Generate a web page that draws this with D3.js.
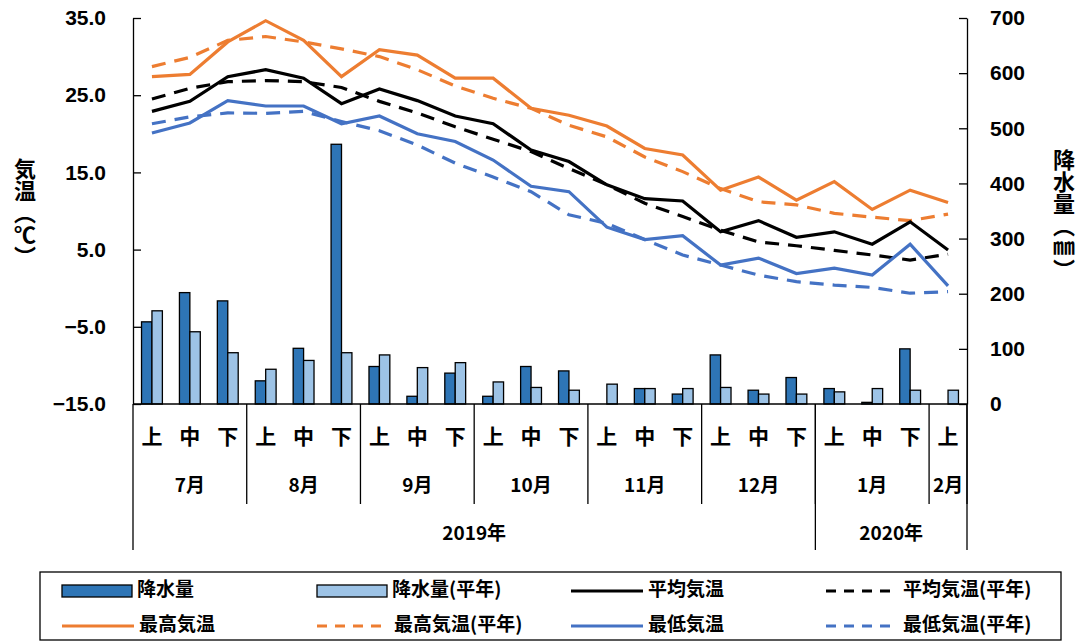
<!DOCTYPE html>
<html>
<head>
<meta charset="utf-8">
<script src="https://cdn.jsdelivr.net/npm/d3@7"></script>
<style>
  body { margin: 0; background: #fff; }
  svg text { font-family: "Liberation Sans", Arial, "Noto Sans CJK JP", sans-serif; font-weight: bold; }
  .jp { font-family: "Noto Sans CJK JP", sans-serif; font-weight: bold; }
  .vert { writing-mode: vertical-rl; text-orientation: upright; }
</style>
</head>
<body>
<div id="vis-holder"></div>
<script>
// Set dimensions
const width = 1080;
const height = 642;
const margin = { top: 18, right: 113, bottom: 238, left: 133 };

// Categories (旬)
const periods = ["上","中","下","上","中","下","上","中","下","上","中","下",
                 "上","中","下","上","中","下","上","中","下","上"];
const monthLabels = ["7月","8月","9月","10月","11月","12月","1月","2月"];
const monthSpans = [3, 3, 3, 3, 3, 3, 3, 1];
const yearLabels = ["2019年", "2020年"];
const yearSpans = [18, 4];

// Precipitation (mm)
const rain = [149, 202, 187, 42, 101, 471, 68, 14, 56, 14, 68, 60, 0, 28, 18, 89, 25, 48, 28, 3, 100, 0];
const rainNormal = [169, 131, 93, 63, 79, 93, 89, 66, 75, 40, 30, 25, 36, 28, 28, 30, 18, 18, 22, 28, 25, 25];

// Temperatures (℃)
const tMean = [22.9, 24.2, 27.4, 28.3, 27.2, 23.9, 25.8, 24.3, 22.3, 21.3, 17.9, 16.4, 13.4, 11.6, 11.3, 7.3, 8.75, 6.6, 7.3, 5.7, 8.6, 4.95];
const tMeanNormal = [24.5, 25.9, 26.75, 26.9, 26.75, 26.0, 24.2, 22.7, 20.9, 19.3, 17.7, 15.5, 13.4, 11.0, 9.3, 7.5, 6.0, 5.5, 4.9, 4.3, 3.65, 4.4];
const tMax = [27.4, 27.7, 31.9, 34.65, 32.1, 27.4, 30.9, 30.2, 27.2, 27.2, 23.3, 22.4, 21.0, 18.1, 17.25, 12.7, 14.4, 11.4, 13.8, 10.2, 12.7, 11.1];
const tMaxNormal = [28.7, 29.9, 32.1, 32.6, 31.9, 31.0, 30.0, 28.3, 26.2, 24.6, 23.3, 21.1, 19.6, 17.0, 15.1, 12.9, 11.2, 10.8, 9.7, 9.2, 8.75, 9.6];
const tMin = [20.1, 21.4, 24.3, 23.6, 23.6, 21.3, 22.3, 20.0, 19.0, 16.6, 13.2, 12.5, 7.9, 6.3, 6.8, 3.0, 3.9, 1.9, 2.6, 1.7, 5.7, 0.3];
const tMinNormal = [21.3, 22.2, 22.7, 22.65, 22.9, 21.6, 20.4, 18.55, 16.2, 14.4, 12.5, 9.5, 8.4, 6.3, 4.3, 3.0, 1.7, 0.85, 0.4, 0.1, -0.65, -0.45];

const tempTicks = [-15, -5, 5, 15, 25, 35];
const rainTicks = [0, 100, 200, 300, 400, 500, 600, 700];

const darkBlue = "#2E75B6";
const lightBlue = "#9DC3E6";
const orange = "#ED7D31";
const blue = "#4472C4";

const svg = d3.select("#vis-holder")
              .append("svg")
              .attr("width", width)
              .attr("height", height);

const idx = d3.range(periods.length);

// Scales
const x = d3.scaleBand()
            .domain(idx)
            .range([margin.left, width - margin.right])
            .paddingInner(0.45)
            .paddingOuter(0.225);
const step = x.step();

const xSub = d3.scaleBand()
               .domain(["rain", "normal"])
               .range([0, x.bandwidth()]);

const yT = d3.scaleLinear()
             .domain([-15, 35])
             .range([height - margin.bottom, margin.top]);

const yR = d3.scaleLinear()
             .domain([0, 700])
             .range([height - margin.bottom, margin.top]);

const baseY = height - margin.bottom;
const cx = (i) => x(i) + x.bandwidth() / 2;

// Bars
const bars = [
  { key: "rain", values: rain, color: darkBlue },
  { key: "normal", values: rainNormal, color: lightBlue }
];
bars.forEach((s) => {
  svg.append("g")
     .selectAll("rect")
     .data(s.values)
     .enter()
     .append("rect")
       .attr("x", (d, i) => x(i) + xSub(s.key))
       .attr("y", (d) => yR(d))
       .attr("width", xSub.bandwidth())
       .attr("height", (d) => baseY - yR(d))
       .attr("fill", s.color)
       .attr("stroke", "#000")
       .attr("stroke-width", 1.3);
});

// Lines
const lines = [
  { values: tMaxNormal, color: orange, dash: "14,9" },
  { values: tMeanNormal, color: "#000", dash: "14,9" },
  { values: tMinNormal, color: blue, dash: "14,9" },
  { values: tMax, color: orange, dash: null },
  { values: tMean, color: "#000", dash: null },
  { values: tMin, color: blue, dash: null }
];
const lineGen = d3.line()
                  .x((d, i) => cx(i))
                  .y((d) => yT(d));
lines.forEach((s) => {
  svg.append("path")
     .datum(s.values)
     .attr("d", lineGen)
     .attr("fill", "none")
     .attr("stroke", s.color)
     .attr("stroke-width", 3.2)
     .attr("stroke-dasharray", s.dash);
});

// Left axis
svg.append("g")
   .attr("transform", `translate(${margin.left},0)`)
   .call(d3.axisLeft(yT).tickValues(tempTicks).tickFormat(d3.format(".1f"))
           .tickSizeInner(-8).tickSizeOuter(0).tickPadding(27))
   .call((g) => g.selectAll("line, path").attr("stroke", "#000").attr("stroke-width", 1.3))
   .call((g) => g.selectAll("text").attr("font-size", "21px").attr("fill", "#000")
                 .attr("font-family", "Liberation Sans, Arial, sans-serif"));

// Right axis
svg.append("g")
   .attr("transform", `translate(${width - margin.right},0)`)
   .call(d3.axisRight(yR).tickValues(rainTicks)
           .tickSizeInner(-8).tickSizeOuter(0).tickPadding(23))
   .call((g) => g.selectAll("line, path").attr("stroke", "#000").attr("stroke-width", 1.3))
   .call((g) => g.selectAll("text").attr("font-size", "21px").attr("fill", "#000")
                 .attr("font-family", "Liberation Sans, Arial, sans-serif"));

// Axis titles (vertical writing)
svg.append("text")
   .attr("class", "jp vert")
   .attr("x", 25)
   .attr("y", 213)
   .attr("text-anchor", "middle")
   .attr("font-size", "22px")
   .text("気温（℃）");

svg.append("text")
   .attr("class", "jp vert")
   .attr("x", 1064)
   .attr("y", 215)
   .attr("text-anchor", "middle")
   .attr("font-size", "22px")
   .text("降水量（㎜）");

// Category axis
const xLeft = margin.left;
const xRight = width - margin.right;
svg.append("line")
   .attr("x1", xLeft).attr("x2", xRight)
   .attr("y1", baseY).attr("y2", baseY)
   .attr("stroke", "#000").attr("stroke-width", 1.3);

svg.append("g").selectAll("text")
   .data(periods)
   .enter().append("text")
     .attr("class", "jp")
     .attr("x", (d, i) => cx(i))
     .attr("y", 438)
     .attr("text-anchor", "middle")
     .attr("dominant-baseline", "middle")
     .attr("font-size", "21px")
     .text((d) => d);

// Month groups
const monthStart = d3.cumsum([0].concat(monthSpans));
const monthBottom = 504;
const yearBottom = 550;
monthLabels.forEach((m, k) => {
  const a = xLeft + monthStart[k] * step;
  const b = xLeft + monthStart[k + 1] * step;
  svg.append("text")
     .attr("class", "jp")
     .attr("x", (a + b) / 2)
     .attr("y", 487)
     .attr("text-anchor", "middle")
     .attr("dominant-baseline", "middle")
     .attr("font-size", "19px")
     .text(m);
  svg.append("line")
     .attr("x1", b).attr("x2", b)
     .attr("y1", baseY).attr("y2", monthBottom)
     .attr("stroke", "#000").attr("stroke-width", 1.3);
});

// Year groups
const yearStart = d3.cumsum([0].concat(yearSpans));
svg.append("line")
   .attr("x1", xLeft).attr("x2", xLeft)
   .attr("y1", baseY).attr("y2", yearBottom)
   .attr("stroke", "#000").attr("stroke-width", 1.3);
yearLabels.forEach((yl, k) => {
  const a = xLeft + yearStart[k] * step;
  const b = xLeft + yearStart[k + 1] * step;
  svg.append("text")
     .attr("class", "jp")
     .attr("x", (a + b) / 2)
     .attr("y", 535)
     .attr("text-anchor", "middle")
     .attr("dominant-baseline", "middle")
     .attr("font-size", "19px")
     .text(yl);
  svg.append("line")
     .attr("x1", b).attr("x2", b)
     .attr("y1", baseY).attr("y2", yearBottom)
     .attr("stroke", "#000").attr("stroke-width", 1.3);
});

// Legend
const legendItems = [
  { label: "降水量", type: "bar", color: darkBlue },
  { label: "降水量(平年)", type: "bar", color: lightBlue },
  { label: "平均気温", type: "line", color: "#000", dash: null },
  { label: "平均気温(平年)", type: "line", color: "#000", dash: "10,8" },
  { label: "最高気温", type: "line", color: orange, dash: null },
  { label: "最高気温(平年)", type: "line", color: orange, dash: "10,8" },
  { label: "最低気温", type: "line", color: blue, dash: null },
  { label: "最低気温(平年)", type: "line", color: blue, dash: "10,8" }
];
const legendCols = [62, 317, 571, 826];
const legendRows = [591, 626];

svg.append("rect")
   .attr("x", 40).attr("y", 572)
   .attr("width", 1021).attr("height", 68)
   .attr("fill", "none").attr("stroke", "#000").attr("stroke-width", 1.3);

const leg = svg.append("g").selectAll("g")
   .data(legendItems)
   .enter().append("g")
     .attr("transform", (d, i) => `translate(${legendCols[i % 4]},${legendRows[Math.floor(i / 4)]})`);

leg.filter((d) => d.type === "bar")
   .append("rect")
     .attr("x", 0).attr("y", -6)
     .attr("width", 70).attr("height", 12)
     .attr("fill", (d) => d.color)
     .attr("stroke", "#000").attr("stroke-width", 1.3);

leg.filter((d) => d.type === "line")
   .append("line")
     .attr("x1", 0).attr("x2", 72)
     .attr("y1", 0).attr("y2", 0)
     .attr("stroke", (d) => d.color)
     .attr("stroke-width", 3.2)
     .attr("stroke-dasharray", (d) => d.dash);

leg.append("text")
   .attr("class", "jp")
   .attr("x", (d) => d.type === "bar" ? 75 : 77)
   .attr("y", 0)
   .attr("dominant-baseline", "middle")
   .attr("font-size", "19px")
   .text((d) => d.label);
</script>
</body>
</html>
